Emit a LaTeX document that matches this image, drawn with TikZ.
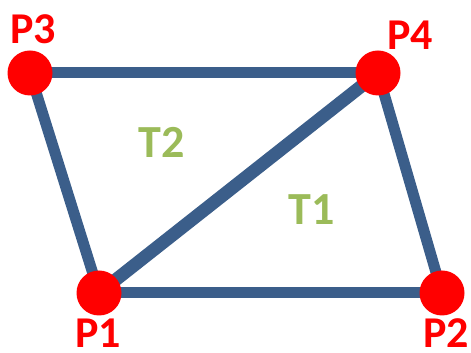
\documentclass[tikz,border=0pt]{standalone}
\usepackage{fontspec}
\setmainfont{Carlito}
\usepackage{tikz}
\usepackage{xcolor}
\usetikzlibrary{positioning,calc}

\definecolor{edgeblue}{HTML}{3B5E8A}
\definecolor{ptred}{HTML}{FF0000}
\definecolor{trigreen}{HTML}{9BBB59}

\begin{document}
\begin{tikzpicture}[
    x=1pt, y=1pt,
    pt/.style={circle, fill=ptred, minimum size=45pt, inner sep=0pt},
    ptlabel/.style={text=ptred, font=\fontsize{44}{44}\selectfont\bfseries, inner sep=0pt},
    trilabel/.style={text=trigreen, font=\fontsize{46}{46}\selectfont\bfseries, inner sep=0pt},
    edge/.style={draw=edgeblue, line width=11pt},
    diag/.style={draw=edgeblue, line width=13pt}
  ]
    \useasboundingbox (0,0) rectangle (471,353);

    \coordinate (p1) at (99,60);
    \coordinate (p2) at (442,60);
    \coordinate (p3) at (30,280);
    \coordinate (p4) at (378,280);

    \draw[edge] (p3) -- (p4);
    \draw[edge] (p3) -- (p1);
    \draw[edge] (p1) -- (p2);
    \draw[edge] (p4) -- (p2);
    \draw[diag] (p1) -- (p4);

    \node[pt] (n1) at (p1) {};
    \node[pt] (n2) at (p2) {};
    \node[pt] (n3) at (p3) {};
    \node[pt] (n4) at (p4) {};

    \node[ptlabel] (l1) at (98,20) {P1};
    \node[ptlabel] (l2) at (446,20) {P2};
    \node[ptlabel] (l3) at (33,324) {P3};
    \node[ptlabel] (l4) at (410,318) {P4};

    \node[trilabel] (t2) at (162,211) {T2};
    \node[trilabel] (t1) at (312,143) {T1};
  \end{tikzpicture}
\end{document}
